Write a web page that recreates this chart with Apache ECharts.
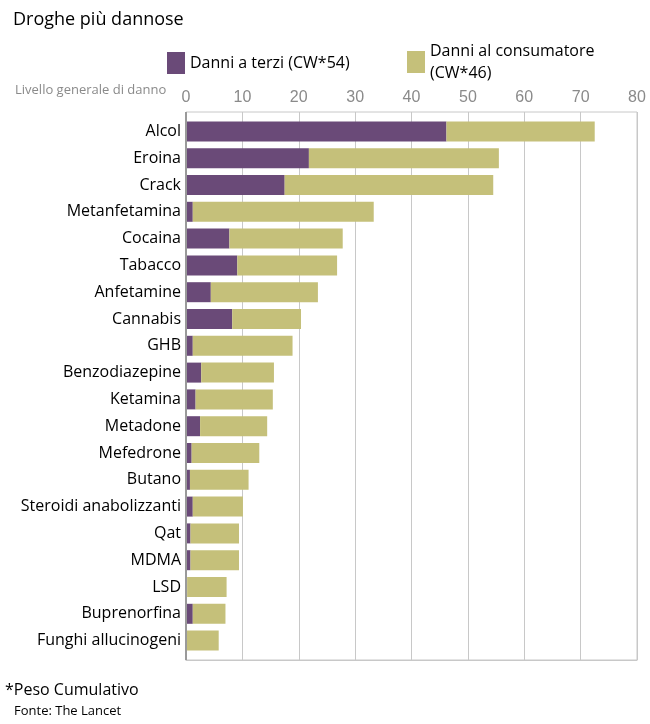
<!DOCTYPE html>
<html>
<head>
<meta charset="utf-8">
<script src="https://cdn.jsdelivr.net/npm/echarts@6/dist/echarts.min.js"></script>
<style>html,body{margin:0;padding:0;background:#fff;}#c{width:650px;height:724px;}</style>
</head>
<body>
<div id="c"></div>
<script>
var categories = ["Alcol","Eroina","Crack","Metanfetamina","Cocaina","Tabacco","Anfetamine","Cannabis","GHB","Benzodiazepine","Ketamina","Metadone","Mefedrone","Butano","Steroidi anabolizzanti","Qat","MDMA","LSD","Buprenorfina","Funghi allucinogeni"];
var danniTerzi = [46.2, 21.8, 17.5, 1.2, 7.7, 9.1, 4.4, 8.2, 1.2, 2.7, 1.7, 2.5, 1.0, 0.7, 1.2, 0.8, 0.8, 0.2, 1.2, 0.1];
var danniConsumatore = [26.3, 33.7, 37.0, 32.1, 20.1, 17.7, 19.0, 12.2, 17.7, 12.9, 13.7, 11.9, 12.0, 10.4, 8.9, 8.6, 8.6, 7.0, 5.8, 5.7];
var xTicks = [0, 10, 20, 30, 40, 50, 60, 70, 80];

var chart = echarts.init(document.getElementById('c'));
var font = '"Open Sans", "Noto Sans", sans-serif';
chart.setOption({
  animation: false,
  backgroundColor: '#fff',
  title: [
    {text: 'Droghe più dannose', left: 8, top: 6, textStyle: {fontFamily: font, fontSize: 18, fontWeight: 'normal', color: '#000'}},
    {text: 'Livello generale di danno', left: 10, top: 79, textStyle: {fontFamily: font, fontSize: 13, fontWeight: 'normal', color: '#8a8a8a'}},
    {text: '*Peso Cumulativo', left: 0, top: 677, textStyle: {fontFamily: font, fontSize: 16, fontWeight: 'normal', color: '#000'}},
    {text: 'Fonte: The Lancet', left: 9, top: 700, textStyle: {fontFamily: font, fontSize: 13, fontWeight: 'normal', color: '#000'}}
  ],
  legend: [
    {left: 162, top: 47, icon: 'rect', itemWidth: 18, itemHeight: 22, data: ['Danni a terzi (CW*54)'], textStyle: {fontFamily: font, fontSize: 16, color: '#000'}},
    {left: 402, top: 35, icon: 'rect', itemWidth: 18, itemHeight: 22, data: ['Danni al consumatore'], formatter: function(){return 'Danni al consumatore\n(CW*46)';}, textStyle: {fontFamily: font, fontSize: 16, color: '#000', lineHeight: 22}}
  ],
  grid: [
    {left: 186, right: 13, top: 112, bottom: 64, show: true, borderColor: '#c8c8c8', borderWidth: 1},
    {left: 186, right: 13, top: 118, bottom: 70}
  ],
  xAxis: [
    {
      type: 'value', gridIndex: 0, position: 'top', min: 0, max: 80, interval: 10,
      axisLine: {show: true, lineStyle: {color: '#c8c8c8'}},
      axisTick: {show: false},
      axisLabel: {color: '#8a8a8a', fontSize: 16, fontFamily: 'Liberation Sans, Arial', margin: 6,
        formatter: function(v){ return xTicks.indexOf(v) >= 0 ? String(v) : ''; }},
      splitLine: {show: true, lineStyle: {color: '#c8c8c8'}}
    },
    {
      type: 'value', gridIndex: 1, min: 0, max: 80, interval: 10, show: false
    }
  ],
  yAxis: [
    {type: 'value', gridIndex: 0, show: false, min: 0, max: 1},
    {
      type: 'category', gridIndex: 1, data: categories, inverse: true,
      axisLine: {show: false},
      axisTick: {show: false},
      axisLabel: {color: '#000', fontSize: 16, fontFamily: font, margin: 5}
    }
  ],
  graphic: [
    {type: 'line', shape: {x1: 186, y1: 112, x2: 186, y2: 660}, style: {stroke: '#9a9a9a', lineWidth: 2}, z: 10}
  ],
  series: [
    {name: 'Danni a terzi (CW*54)', type: 'bar', stack: 'a', xAxisIndex: 1, yAxisIndex: 1, data: danniTerzi, barWidth: 20, itemStyle: {color: '#6a4a78'}},
    {name: 'Danni al consumatore', type: 'bar', stack: 'a', xAxisIndex: 1, yAxisIndex: 1, data: danniConsumatore, barWidth: 20, itemStyle: {color: '#c5c07a'}}
  ]
});
</script>
</body>
</html>
